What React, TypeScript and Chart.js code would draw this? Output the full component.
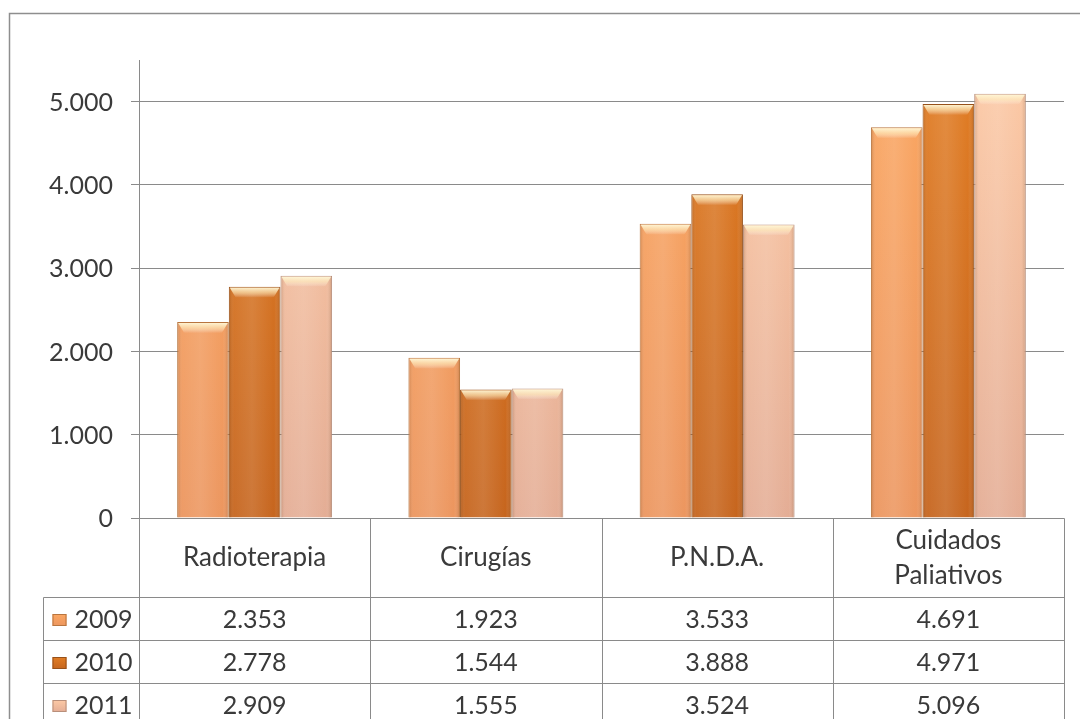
import React, { useEffect, useRef } from 'react';
import { Chart, registerables } from 'chart.js';

Chart.register(...registerables);

const categories: string[][] = [['Radioterapia'], ['Cirugías'], ['P.N.D.A.'], ['Cuidados', 'Paliativos']];
const seriesNames = ['2009', '2010', '2011'];
const values2009 = [2353, 1923, 3533, 4691];
const values2010 = [2778, 1544, 3888, 4971];
const values2011 = [2909, 1555, 3524, 5096];
const yTickValues = [0, 1000, 2000, 3000, 4000, 5000];

const seriesValues = [values2009, values2010, values2011];
const seriesTop = ['#FBA762', '#E27E25', '#FDCAA6'];
const seriesBottom = ['#EC965F', '#C6651E', '#E4AD95'];
const seriesBorder = ['#B8753F', '#97511A', '#B88F7B'];

const FONT = 'Lato, "Open Sans", sans-serif';
const TEXT = '#3a3a3a';
const LINE = '#8a8a8a';

const fmt = (n: number) => String(n).replace(/\B(?=(\d{3})+(?!\d))/g, '.');

const frame = {
  id: 'frame',
  beforeDraw(chart: any) {
    const { ctx, width, height } = chart;
    ctx.save();
    ctx.fillStyle = '#ffffff';
    ctx.fillRect(0, 0, width, height);
    ctx.strokeStyle = '#8e8e8e';
    ctx.lineWidth = 1.5;
    ctx.beginPath();
    ctx.moveTo(9.5, height);
    ctx.lineTo(9.5, 13.5);
    ctx.lineTo(width, 13.5);
    ctx.stroke();
    ctx.restore();
  },
};

const yLabels = {
  id: 'yLabels',
  afterDraw(chart: any) {
    const { ctx, chartArea } = chart;
    const ys = chart.scales.y;
    ctx.save();
    ctx.fillStyle = TEXT;
    ctx.font = `25px ${FONT}`;
    ctx.textAlign = 'right';
    ctx.textBaseline = 'middle';
    yTickValues.forEach((v) => {
      ctx.fillText(fmt(v), chartArea.left - 26, ys.getPixelForValue(v) + 1);
    });
    ctx.restore();
  },
};

const barShade = {
  id: 'barShade',
  afterDatasetsDraw(chart: any) {
    const { ctx } = chart;
    ctx.save();
    chart.data.datasets.forEach((_: any, di: number) => {
      const meta = chart.getDatasetMeta(di);
      meta.data.forEach((el: any) => {
        const { x, y, base, width } = el.getProps(['x', 'y', 'base', 'width'], true);
        const l = x - width / 2;
        const h = base - y;
        const g = ctx.createLinearGradient(l, 0, l + width, 0);
        g.addColorStop(0, 'rgba(90,40,0,0.25)');
        g.addColorStop(0.1, 'rgba(255,255,255,0.05)');
        g.addColorStop(0.45, 'rgba(255,255,255,0.12)');
        g.addColorStop(0.88, 'rgba(255,255,255,0.0)');
        g.addColorStop(1, 'rgba(90,40,0,0.25)');
        ctx.fillStyle = g;
        ctx.fillRect(l + 1, y + 1, width - 2, h - 1);
        const cap = ctx.createLinearGradient(0, y, 0, y + 11);
        cap.addColorStop(0, 'rgba(255,250,220,1)');
        cap.addColorStop(0.55, 'rgba(255,240,195,0.6)');
        cap.addColorStop(1, 'rgba(255,255,255,0)');
        ctx.fillStyle = cap;
        ctx.beginPath();
        ctx.moveTo(l + 1, y + 1);
        ctx.lineTo(l + width - 1, y + 1);
        ctx.lineTo(l + width - 7, y + 11);
        ctx.lineTo(l + 7, y + 11);
        ctx.closePath();
        ctx.fill();
      });
    });
    ctx.restore();
  },
};

const dataTable = {
  id: 'dataTable',
  afterDraw(chart: any) {
    const { ctx, chartArea } = chart;
    const xs = chart.scales.x;
    const n = categories.length;
    const colW = (chartArea.right - chartArea.left) / n;
    const top = Math.round(chartArea.bottom) + 0.5;
    const headerH = 79;
    const rowH = 43;
    const legendW = 96;
    const left = Math.round(chartArea.left) + 0.5;
    const right = Math.round(chartArea.right) + 0.5;
    const legendLeft = left - legendW;
    const bottom = top + headerH + seriesNames.length * rowH;
    ctx.save();
    ctx.strokeStyle = LINE;
    ctx.lineWidth = 1;
    const line = (x1: number, y1: number, x2: number, y2: number) => {
      ctx.beginPath();
      ctx.moveTo(x1, y1);
      ctx.lineTo(x2, y2);
      ctx.stroke();
    };
    line(left, top, right, top);
    for (let r = 0; r < seriesNames.length; r++) {
      const y = top + headerH + r * rowH;
      line(legendLeft, y, right, y);
    }
    for (let i = 0; i <= n; i++) {
      const x = Math.round(chartArea.left + i * colW) + 0.5;
      line(x, top, x, bottom);
    }
    line(legendLeft, top + headerH, legendLeft, bottom);

    ctx.fillStyle = TEXT;
    ctx.font = `26px ${FONT}`;
    ctx.textAlign = 'center';
    ctx.textBaseline = 'middle';
    categories.forEach((lines, i) => {
      const cx = xs.getPixelForValue(i);
      const cy = top + headerH / 2;
      const lh = 35;
      lines.forEach((t, k) => {
        ctx.fillText(t, cx, cy + (k - (lines.length - 1) / 2) * lh);
      });
    });
    ctx.font = `25px ${FONT}`;
    seriesNames.forEach((name, r) => {
      const cy = top + headerH + r * rowH + rowH / 2 + 1;
      seriesValues[r].forEach((v, i) => {
        ctx.fillStyle = TEXT;
        ctx.textAlign = 'center';
        ctx.fillText(fmt(v), xs.getPixelForValue(i), cy);
      });
      const sx = legendLeft + 9;
      const g = ctx.createLinearGradient(0, cy - 6, 0, cy + 6);
      g.addColorStop(0, seriesTop[r]);
      g.addColorStop(1, seriesBottom[r]);
      ctx.fillStyle = g;
      ctx.fillRect(sx, cy - 6, 14, 12);
      ctx.strokeStyle = seriesBorder[r];
      ctx.strokeRect(sx + 0.5, cy - 5.5, 13, 11);
      ctx.fillStyle = TEXT;
      ctx.textAlign = 'left';
      ctx.fillText(name, sx + 22, cy);
    });
    ctx.restore();
  },
};

export default function App() {
  const ref = useRef<HTMLCanvasElement | null>(null);
  useEffect(() => {
    if (!ref.current) return;
    const datasets = seriesNames.map((name, i) => ({
      label: name,
      data: seriesValues[i],
      backgroundColor: (c: any) => {
        const area = c.chart.chartArea;
        if (!area) return seriesTop[i];
        const g = c.chart.ctx.createLinearGradient(0, area.top, 0, area.bottom);
        g.addColorStop(0, seriesTop[i]);
        g.addColorStop(1, seriesBottom[i]);
        return g;
      },
      borderColor: seriesBorder[i],
      borderWidth: 1,
      categoryPercentage: 0.67,
      barPercentage: 1,
    }));
    const chart = new Chart(ref.current, {
      type: 'bar',
      data: { labels: categories.map((c) => c.join(' ')), datasets },
      options: {
        animation: false,
        responsive: false,
        layout: { padding: { top: 60, right: 16, bottom: 201, left: 0 } },
        plugins: { legend: { display: false }, tooltip: { enabled: false } },
        scales: {
          x: { display: false },
          y: {
            min: 0,
            max: 5500,
            ticks: { display: false, stepSize: 1000 },
            afterBuildTicks: (s: any) => {
              s.ticks = yTickValues.map((v) => ({ value: v }));
            },
            afterFit: (s: any) => {
              s.width = 139;
            },
            grid: { color: LINE, lineWidth: 1, tickLength: 8, drawTicks: true },
            border: { display: true, color: LINE, width: 1 },
          },
        },
      },
      plugins: [frame, barShade, dataTable, yLabels],
    });
    return () => chart.destroy();
  }, []);
  return (
    <div style={{ position: 'absolute', left: 0, top: 0, width: 1080, height: 719, background: '#fff' }}>
      <canvas ref={ref} width={1080} height={719} style={{ display: 'block', width: 1080, height: 719 }} />
    </div>
  );
}
